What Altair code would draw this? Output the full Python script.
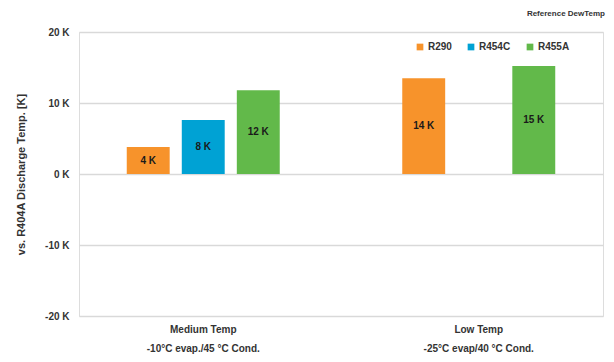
import altair as alt
import pandas as pd

# Operating conditions (two-line axis labels, split on "|")
conditions = ["Medium Temp|-10°C evap./45 °C Cond.", "Low Temp|-25°C evap/40 °C Cond."]
refrigerants = ["R290", "R454C", "R455A"]
colors = ["#F7932B", "#00A2D4", "#62B94A"]

# Discharge temperature difference vs. R404A [K]
medium_values = [3.8, 7.6, 11.8]
low_values = [13.5, None, 15.2]

rows = []
for cond, vals in zip(conditions, [medium_values, low_values]):
    for ref, v in zip(refrigerants, vals):
        if v is not None:
            rows.append({"condition": cond, "refrigerant": ref, "value": v})
df = pd.DataFrame(rows)

FONT = "Liberation Sans"

x_enc = alt.X(
    "condition:N",
    sort=conditions,
    title=None,
    scale=alt.Scale(paddingInner=0.35, paddingOuter=0.126),
    axis=alt.Axis(
        labelExpr="split(datum.label, '|')",
        labelAngle=0,
        labelFont=FONT,
        labelFontSize=10,
        labelFontWeight="bold",
        labelColor="#333333",
        labelLineHeight=19,
        labelPadding=8,
        ticks=False,
        domain=False,
        grid=False,
    ),
)
xoff = alt.XOffset(
    "refrigerant:N",
    sort=refrigerants,
    scale=alt.Scale(paddingInner=0.22, paddingOuter=0.237),
)

bars = alt.Chart(df).mark_bar().encode(
    x=x_enc,
    xOffset=xoff,
    y=alt.Y(
        "value:Q",
        title="vs. R404A  Discharge Temp. [K]",
        scale=alt.Scale(domain=[-20, 20], nice=False),
        axis=alt.Axis(
            values=[-20, -10, 0, 10, 20],
            labelExpr="datum.value + ' K'",
            labelFont=FONT,
            labelFontSize=10,
            labelFontWeight="bold",
            labelColor="#333333",
            labelPadding=10,
            ticks=False,
            domain=False,
            gridColor="#d9d9d9",
            gridWidth=1.5,
            titleFont=FONT,
            titleFontSize=11,
            titleFontWeight="bold",
            titleColor="#333333",
            titlePadding=18,
        ),
    ),
    color=alt.Color(
        "refrigerant:N",
        sort=refrigerants,
        scale=alt.Scale(domain=refrigerants, range=colors),
        legend=alt.Legend(
            title=None,
            orient="none",
            legendX=336,
            legendY=10,
            direction="horizontal",
            symbolType="square",
            symbolSize=45,
            symbolStrokeWidth=0,
            labelFont=FONT,
            labelFontSize=10,
            labelFontWeight="bold",
            labelColor="#333333",
            columnPadding=14,
            labelOffset=3,
        ),
    ),
)

labels = alt.Chart(df).transform_calculate(
    mid="datum.value / 2",
    txt="format(datum.value, '.0f') + ' K'",
).mark_text(
    font=FONT, fontSize=10, fontWeight="bold", color="#1a1a1a", baseline="middle"
).encode(
    x=alt.X("condition:N", sort=conditions),
    xOffset=xoff,
    y=alt.Y("mid:Q"),
    text="txt:N",
)

chart = (
    alt.layer(bars, labels)
    .properties(
        width=524,
        height=284,
        autosize=alt.AutoSizeParams(type="none"),
        padding={"left": 79, "top": 32, "right": 11, "bottom": 46},
        title=alt.TitleParams(
            "Reference DewTemp",
            anchor="end",
            font=FONT,
            fontSize=8,
            fontWeight="bold",
            color="#333333",
            offset=9,
            dx=2,
        ),
    )
    .configure_view(stroke="#bfbfbf", strokeWidth=1.5)
    .configure(background="white")
)

chart.save("out.html", embed_options={"renderer": "svg", "actions": False})
